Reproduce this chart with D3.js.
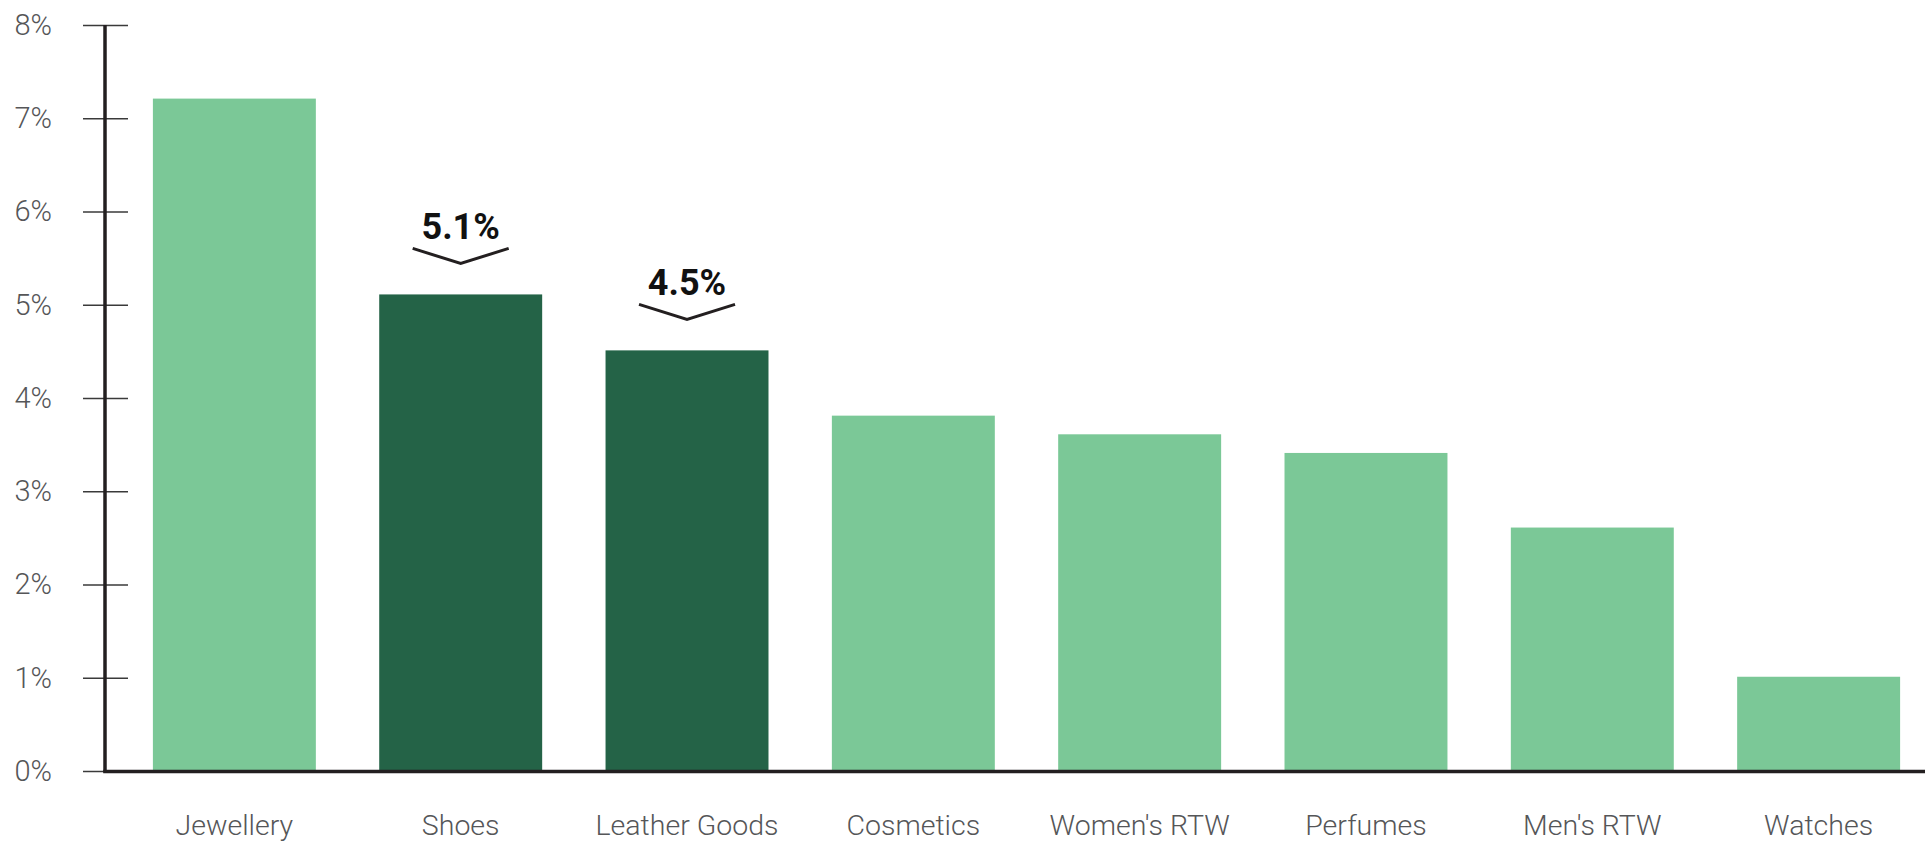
<!DOCTYPE html>
<html>
<head>
<meta charset="utf-8">
<script src="https://cdn.jsdelivr.net/npm/d3@7"></script>
<style>
  html, body { margin: 0; padding: 0; background: #fff; }
  svg { display: block; }
</style>
</head>
<body>
<svg id="chart" width="1930" height="841"></svg>
<script>
// Category growth rates (%)
const categories = ["Jewellery", "Shoes", "Leather Goods", "Cosmetics", "Women's RTW", "Perfumes", "Men's RTW", "Watches"];
const growth = [7.2, 5.1, 4.5, 3.8, 3.6, 3.4, 2.6, 1.0];
const highlighted = ["Shoes", "Leather Goods"];
const yTicks = [0, 1, 2, 3, 4, 5, 6, 7, 8];

const svg = d3.select("#chart");
const axisX = 105;

const x = d3.scaleBand()
  .domain(categories)
  .range([128, 1925])
  .paddingInner(0.28)
  .paddingOuter(0.11);

const y = d3.scaleLinear().domain([0, 8]).range([771, 25]);

const data = categories.map((c, i) => ({ cat: c, value: growth[i] }));

// Bars
svg.append("g")
  .selectAll("rect")
  .data(data)
  .join("rect")
  .attr("x", d => x(d.cat))
  .attr("y", d => y(d.value) - 1)
  .attr("width", x.bandwidth())
  .attr("height", d => y(0) - y(d.value) + 1)
  .attr("fill", d => highlighted.includes(d.cat) ? "#246347" : "#7bc897");

// Y axis ticks and labels
const yAxis = svg.append("g")
  .attr("transform", "translate(128,0)")
  .call(d3.axisLeft(y).tickValues(yTicks).tickSize(45).tickPadding(31).tickFormat(d => d + "%"));
yAxis.select(".domain").remove();
yAxis.selectAll(".tick line").attr("stroke", "#3a3a3a").attr("stroke-width", 1.4);
yAxis.selectAll(".tick text")
  .attr("fill", "#555658")
  .attr("font-family", "Roboto, sans-serif")
  .attr("font-weight", 300)
  .attr("font-size", 29);

// Axis lines
svg.append("line")
  .attr("x1", axisX).attr("x2", axisX)
  .attr("y1", y(8)).attr("y2", y(0) + 1.5)
  .attr("stroke", "#231f20").attr("stroke-width", 3.5);
svg.append("line")
  .attr("x1", axisX - 1.75).attr("x2", 1925)
  .attr("y1", y(0) + 0.5).attr("y2", y(0) + 0.5)
  .attr("stroke", "#231f20").attr("stroke-width", 3.5);

// Category labels
svg.append("g")
  .selectAll("text")
  .data(categories)
  .join("text")
  .attr("x", d => x(d) + x.bandwidth() / 2)
  .attr("y", 835)
  .attr("text-anchor", "middle")
  .attr("fill", "#555658")
  .attr("font-family", "Roboto, sans-serif")
  .attr("font-weight", 300)
  .attr("font-size", 28.5)
  .text(d => d);

// Value callouts with chevrons on highlighted bars
const callouts = data.filter(d => highlighted.includes(d.cat));
const cg = svg.append("g").selectAll("g").data(callouts).join("g");
cg.append("path")
  .attr("d", d => {
    const cx = x(d.cat) + x.bandwidth() / 2;
    const top = y(d.value);
    return `M${cx - 48},${top - 47} L${cx},${top - 32} L${cx + 48},${top - 47}`;
  })
  .attr("fill", "none")
  .attr("stroke", "#231f20")
  .attr("stroke-width", 3);
cg.append("text")
  .attr("x", d => x(d.cat) + x.bandwidth() / 2)
  .attr("y", d => y(d.value) - 56)
  .attr("text-anchor", "middle")
  .attr("fill", "#111")
  .attr("font-family", "Roboto, sans-serif")
  .attr("font-weight", 700)
  .attr("font-size", 36)
  .text(d => d.value.toFixed(1) + "%");
</script>
</body>
</html>
